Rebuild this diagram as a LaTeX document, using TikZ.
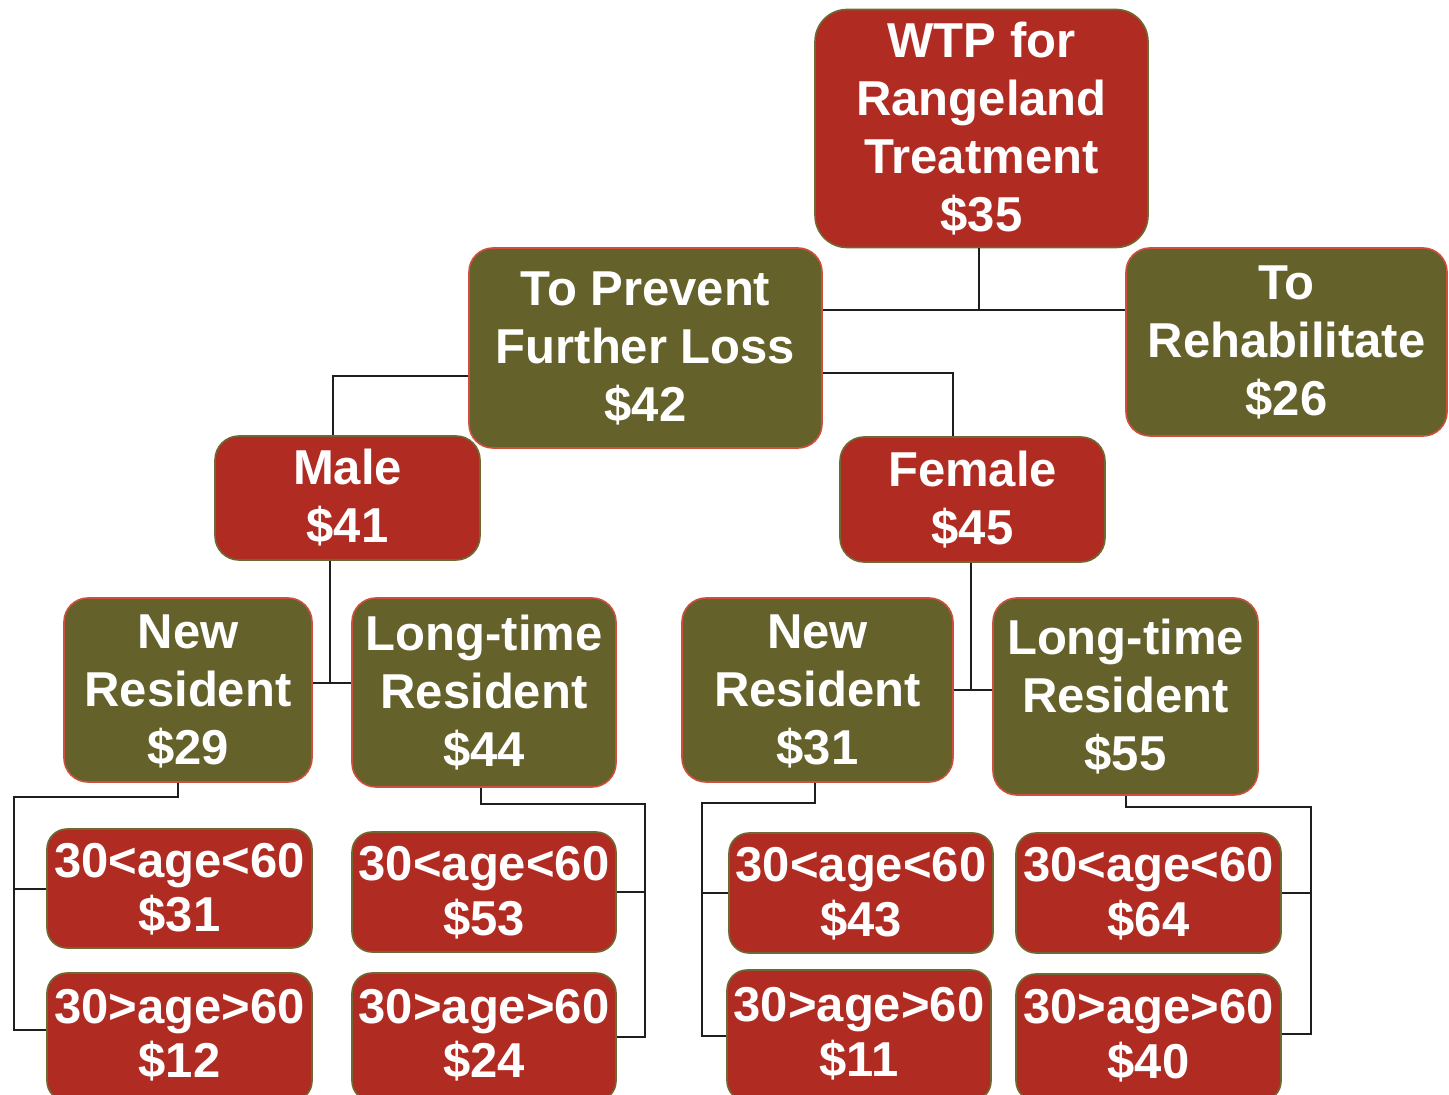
\documentclass[tikz,border=0pt]{standalone}
\usepackage{fontspec}
\setmainfont{Liberation Sans}
\definecolor{boxred}{RGB}{176,44,34}
\definecolor{boxolive}{RGB}{101,97,43}
\definecolor{edgered}{RGB}{205,80,60}
\definecolor{edgeolive}{RGB}{110,105,50}
\definecolor{wire}{RGB}{30,30,30}
\newcommand\mytop{\rule{0pt}{24pt}}
\newcommand\mytopb{\rule{0pt}{21.5pt}}
\newcommand\mybot{\rule[-8pt]{0pt}{0pt}}
\tikzset{
  base/.style={rounded corners=12pt, inner sep=0pt, align=center, text=white,
    font=\fontsize{24.5}{29}\selectfont\bfseries, line width=0.8pt},
  redbox/.style={base, fill=boxred, draw=edgeolive},
  olivebox/.style={base, fill=boxolive, draw=edgered},
  agebox/.style={redbox, rounded corners=10pt, font=\fontsize{24.5}{27.25}\selectfont\bfseries},
  wire/.style={draw=wire, line width=1pt},
}
\begin{document}
\begin{tikzpicture}[x=0.5pt,y=-0.5pt]
\useasboundingbox (0,0) rectangle (1449,1095);
\fill[white] (0,0) rectangle (1449,1095);
\clip (0,0) rectangle (1449,1095);

% nodes
\node[redbox, rounded corners=16pt, minimum width=166.5pt, minimum height=118.5pt] (root) at (981.5,128.5) {\mytop WTP for\\Rangeland\\Treatment\\\$35\mybot};
\node[olivebox, minimum width=176.5pt, minimum height=100pt] (prev) at (645.5,348) {\mytop To Prevent\\Further Loss\\\$42\mybot};
\node[olivebox, minimum width=160.5pt, minimum height=94pt] (rehab) at (1286.5,342) {\mytop To\\Rehabilitate\\\$26\mybot};
\node[redbox, minimum width=132.5pt, minimum height=62pt] (male) at (347.5,498) {\mytop Male\\\$41\mybot};
\node[redbox, minimum width=132.5pt, minimum height=62.5pt] (female) at (972.5,499.5) {\mytop Female\\\$45\mybot};
\node[olivebox, minimum width=124pt, minimum height=92pt] (nr1) at (188,690) {\mytop New\\Resident\\\$29\mybot};
\node[olivebox, minimum width=132pt, minimum height=94.5pt] (lr1) at (484,692.5) {\mytop Long-time\\Resident\\\$44\mybot};
\node[olivebox, minimum width=135.5pt, minimum height=92pt] (nr2) at (817.5,690) {\mytop New\\Resident\\\$31\mybot};
\node[olivebox, minimum width=132.5pt, minimum height=98.5pt] (lr2) at (1125.5,696.5) {\mytop Long-time\\Resident\\\$55\mybot};

\node[agebox, minimum width=132.5pt, minimum height=59.5pt] (a1) at (179.5,888.5) {\mytop 30<age<60\\\$31\mybot};
\node[agebox, minimum width=132pt, minimum height=60pt] (a2) at (484,892) {\mytop 30<age<60\\\$53\mybot};
\node[agebox, minimum width=132pt, minimum height=60pt] (a3) at (861,893) {\mytop 30<age<60\\\$43\mybot};
\node[agebox, minimum width=132.5pt, minimum height=60pt] (a4) at (1148.5,893) {\mytop 30<age<60\\\$64\mybot};

\node[agebox, minimum width=132.5pt, minimum height=64pt] (b1) at (179.5,1037) {\mytopb 30>age>60\\\$12\mybot};
\node[agebox, minimum width=132pt, minimum height=64pt] (b2) at (484,1037) {\mytopb 30>age>60\\\$24\mybot};
\node[agebox, minimum width=132pt, minimum height=65.5pt] (b3) at (859,1035.5) {\mytopb 30>age>60\\\$11\mybot};
\node[agebox, minimum width=132.5pt, minimum height=63.5pt] (b4) at (1148.5,1037.5) {\mytopb 30>age>60\\\$40\mybot};

% junction coordinates
\coordinate (j0) at (979,310);
\coordinate (p1) at (333,376);
\coordinate (p2) at (953,373);
\coordinate (m1) at (330,683);
\coordinate (f1) at (971,690);
\coordinate (s1) at (178,797);  \coordinate (k1) at (14,797);
\coordinate (s2) at (481,804);  \coordinate (k2) at (645,804);
\coordinate (s3) at (815,803);  \coordinate (k3) at (702,803);
\coordinate (s4) at (1126,807); \coordinate (k4) at (1311,807);

% connectors
\draw[wire] (root.south -| j0) -- (j0);
\draw[wire] (prev.east |- j0) -- (rehab.west |- j0);
\draw[wire] (prev.west |- p1) -| (male.north -| p1);
\draw[wire] (prev.east |- p2) -| (female.north -| p2);
\draw[wire] (male.south -| m1) -- (m1);
\draw[wire] (nr1.east |- m1) -- (lr1.west |- m1);
\draw[wire] (female.south -| f1) -- (f1);
\draw[wire] (nr2.east |- f1) -- (lr2.west |- f1);

\draw[wire] (nr1.south -| s1) |- (k1) |- ([yshift=3.5pt]b1.west);
\draw[wire] (k1 |- a1.west) -- (a1.west);
\draw[wire] (lr1.south -| s2) |- (k2) |- (b2.east);
\draw[wire] (k2 |- a2.east) -- (a2.east);
\draw[wire] (nr2.south -| s3) |- (k3) |- (b3.west);
\draw[wire] (k3 |- a3.west) -- (a3.west);
\draw[wire] (lr2.south -| s4) |- (k4) |- ([yshift=2pt]b4.east);
\draw[wire] (k4 |- a4.east) -- (a4.east);
\end{tikzpicture}
\end{document}
